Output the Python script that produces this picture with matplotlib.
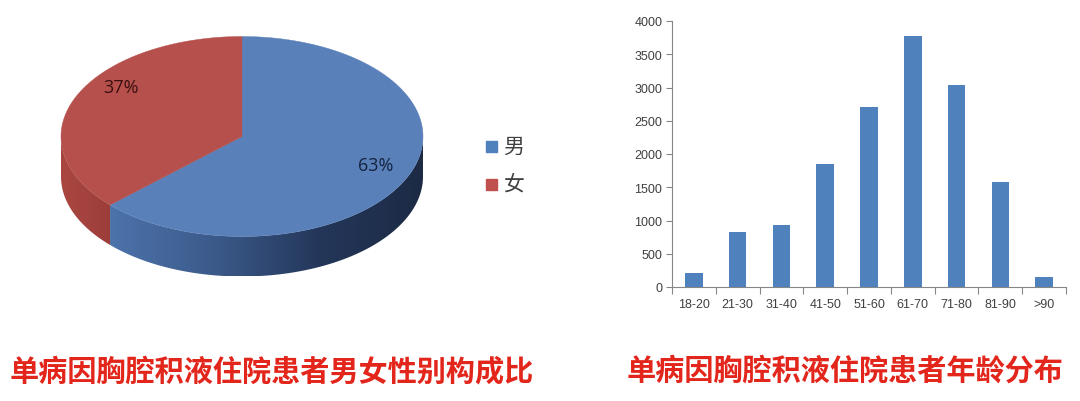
import matplotlib
matplotlib.use("Agg")
import matplotlib.pyplot as plt
import numpy as np
from matplotlib.colors import LinearSegmentedColormap
from matplotlib.patches import Polygon, Rectangle

plt.rcParams["font.family"] = ["Noto Sans CJK SC", "DejaVu Sans"]

# pie data
sex_labels = ["男", "女"]
sex_share = [63, 37]
sex_top_colors = ["#5a80b9", "#b5504c"]
sex_legend_colors = ["#4f81bd", "#c0504d"]

# bar data
age_groups = ["18-20", "21-30", "31-40", "41-50", "51-60", "61-70", "71-80", "81-90", ">90"]
age_counts = [205, 832, 937, 1845, 2707, 3779, 3033, 1574, 155]

title_left = "单病因胸腔积液住院患者男女性别构成比"
title_right = "单病因胸腔积液住院患者年龄分布"
title_color = "#e3261c"

W, H = 1080, 402
fig = plt.figure(figsize=(W / 100, H / 100), dpi=100)

# ---- 3D pie, drawn in pixel space ----
ax = fig.add_axes([0, 0, 1, 1])
ax.set_xlim(0, W)
ax.set_ylim(H, 0)
ax.axis("off")

cx, cy, rx, ry, depth = 242, 137.5, 181, 100, 40


def pt(theta_deg, dz=0.0):
    t = np.radians(theta_deg)
    return cx + rx * np.cos(t), cy - ry * np.sin(t) + dz


# slice angles: female counter-clockwise from 12 o'clock, male the rest
fracs = np.array(sex_share, dtype=float) / sum(sex_share)
female_end = 90 + 360 * fracs[1]
ranges = {0: (female_end, 450), 1: (90, female_end)}
# visible part of the side wall (front half, 180..360 deg)
side_ranges = {0: (female_end, 360), 1: (180, female_end)}
side_cmaps = {
    0: LinearSegmentedColormap.from_list("m", ["#4d73ab", "#3b5a8a", "#24375a", "#1c2a44"]),
    1: LinearSegmentedColormap.from_list("f", ["#a9463f", "#a4433f", "#9c3d3a"]),
}
grad = np.linspace(0, 1, 256).reshape(1, -1)
for i, (lo, hi) in side_ranges.items():
    ts = np.linspace(lo, hi, 200)
    verts = [pt(t) for t in ts] + [pt(t, depth) for t in ts[::-1]]
    poly = Polygon(verts, closed=True, facecolor="none", lw=0)
    ax.add_patch(poly)
    xs = [v[0] for v in verts]
    ys = [v[1] for v in verts]
    im = ax.imshow(grad, cmap=side_cmaps[i], aspect="auto", zorder=2,
                   extent=(min(xs), max(xs), max(ys), min(ys)), interpolation="bilinear")
    im.set_clip_path(poly)
ax.set_xlim(0, W)
ax.set_ylim(H, 0)

# top faces
for i, (a0, a1) in ranges.items():
    ts = np.linspace(a0, a1, 200)
    verts = [(cx, cy)] + [pt(t) for t in ts]
    ax.add_patch(Polygon(verts, closed=True, facecolor=sex_top_colors[i],
                         edgecolor=sex_top_colors[i], lw=0.3, zorder=3))

# percentage labels
label_pos = {0: (376, 166), 1: (121, 88)}
label_colors = {0: "#14233f", 1: "#3a1010"}
for i, share in enumerate(sex_share):
    ax.text(*label_pos[i], f"{share}%", ha="center", va="center", fontsize=13,
            family=["Open Sans", "DejaVu Sans"], color=label_colors[i], zorder=5)

# legend
for i, lab in enumerate(sex_labels):
    y = 147 + i * 38
    ax.add_patch(Rectangle((486, y - 5.5), 11, 11, color=sex_legend_colors[i], zorder=5))
    ax.text(503, y, lab, ha="left", va="center", fontsize=15, color="#404040",
            fontweight="light", zorder=5)

# titles
ax.text(272, 371, title_left, ha="center", va="center", fontsize=21,
        fontweight="bold", color=title_color)
ax.text(845, 371, title_right, ha="center", va="center", fontsize=21,
        fontweight="bold", color=title_color)

# ---- bar chart ----
bx = fig.add_axes([672 / W, 1 - 288 / H, (1066 - 672) / W, (288 - 22) / H])
x = np.arange(len(age_groups))
bx.bar(x, age_counts, width=0.4, color="#4f81bd", zorder=3)
bx.set_xlim(-0.5, len(age_groups) - 0.5)
bx.set_ylim(0, 4000)
bx.set_yticks(np.arange(0, 4001, 500))
bx.set_xticks(np.arange(-0.5, len(age_groups)), minor=False)
bx.set_xticklabels([])
bx.set_xticks(x, minor=True)
bx.set_xticklabels(age_groups, minor=True)
bx.tick_params(axis="x", which="major", length=5, color="#868686", direction="out")
bx.tick_params(axis="x", which="minor", length=0, pad=8)
bx.tick_params(axis="y", length=4, color="#868686", pad=3)
for lab in bx.get_xticklabels(minor=True) + bx.get_yticklabels():
    lab.set_family(["Liberation Sans", "DejaVu Sans"])
    lab.set_fontsize(9)
    lab.set_color("#404040")
for side in ["top", "right"]:
    bx.spines[side].set_visible(False)
for side in ["left", "bottom"]:
    bx.spines[side].set_color("#868686")
bx.patch.set_alpha(0)

fig.savefig("out.png", dpi=100, facecolor="white")
